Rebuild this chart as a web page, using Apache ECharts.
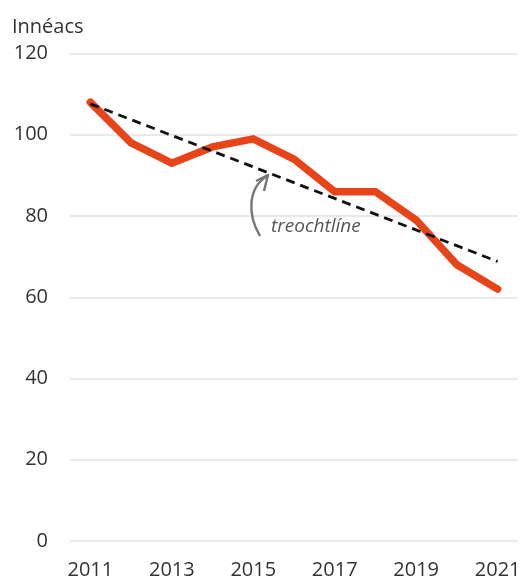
<!DOCTYPE html>
<html>
<head>
<meta charset="utf-8">
<script src="https://cdn.jsdelivr.net/npm/echarts@6/dist/echarts.min.js"></script>
<style>html,body{margin:0;padding:0;background:#fff}#c{width:524px;height:584px}</style>
</head>
<body>
<div id="c"></div>
<script>
const years = ['2011','2012','2013','2014','2015','2016','2017','2018','2019','2020','2021'];
const indexValues = [108, 98, 93, 97, 99, 94, 86, 86, 79, 68, 62];
const trendValues = [107.6, null, null, null, null, null, null, null, null, null, 68.8];
const yTicks = [0, 20, 40, 60, 80, 100, 120];
const yName = 'Innéacs';
const annotation = 'treochtlíne';

const FONT = '"Open Sans", "Noto Sans", sans-serif';
const chart = echarts.init(document.getElementById('c'), null, {renderer: 'canvas'});
chart.setOption({
  animation: false,
  backgroundColor: '#ffffff',
  title: {
    text: yName, left: 12, top: 17, padding: 0,
    textStyle: {fontFamily: FONT, fontSize: 20, fontWeight: 'normal', color: '#333333'}
  },
  grid: {left: 70, right: 6, top: 53.5, bottom: 43, containLabel: false},
  xAxis: {
    type: 'category', data: years, boundaryGap: true,
    axisLine: {show: false}, axisTick: {show: false},
    axisLabel: {interval: 1, margin: 19, fontFamily: FONT, fontSize: 20, color: '#333333'}
  },
  yAxis: {
    type: 'value', min: yTicks[0], max: yTicks[yTicks.length - 1], interval: 20,
    axisLine: {show: false}, axisTick: {show: false},
    axisLabel: {margin: 22, fontFamily: FONT, fontSize: 20, color: '#333333'},
    splitLine: {lineStyle: {color: '#e2e2e2', width: 1.5}}
  },
  series: [
    {
      type: 'line', data: indexValues, symbol: 'none', z: 3,
      lineStyle: {color: '#E8441A', width: 7.5, cap: 'round', join: 'miter'}
    },
    {
      type: 'line', data: trendValues, connectNulls: true, symbol: 'none', z: 4,
      lineStyle: {color: '#111111', width: 2.8, type: [9, 6]}
    }
  ],
  graphic: [
    {
      type: 'bezierCurve',
      shape: {x1: 260, y1: 236, cpx1: 247, cpy1: 214, cpx2: 248, cpy2: 188, x2: 267, y2: 176},
      style: {stroke: '#777777', lineWidth: 2.4, fill: null}, z: 10
    },
    {
      type: 'polyline',
      shape: {points: [[256, 181], [268, 175], [264, 191]]},
      style: {stroke: '#777777', lineWidth: 2.4, fill: null, lineJoin: 'round'}, z: 10
    },
    {
      type: 'text', left: 271, top: 217,
      style: {text: annotation, fontFamily: FONT, fontStyle: 'italic', fontSize: 19, fill: '#555555'}, z: 10
    }
  ]
});
</script>
</body>
</html>
